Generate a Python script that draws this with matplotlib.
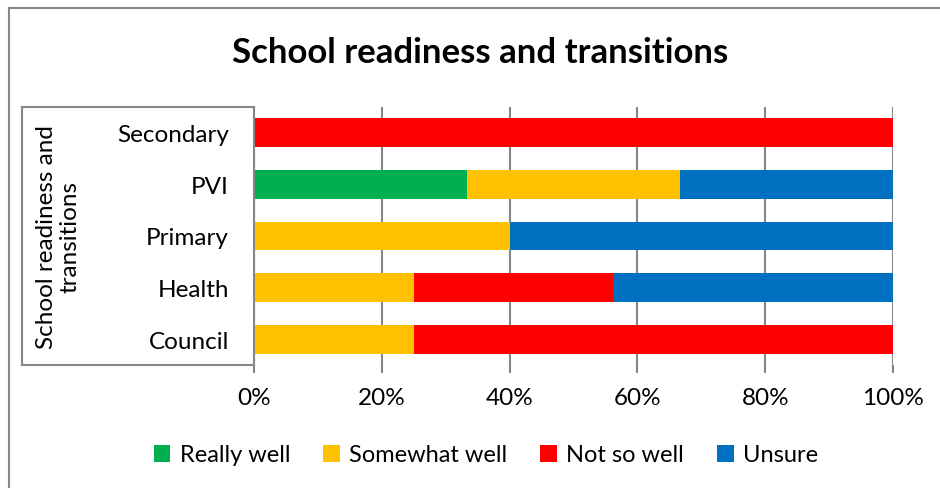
import matplotlib.pyplot as plt
from matplotlib.lines import Line2D
from matplotlib.ticker import PercentFormatter

plt.rcParams['font.family'] = ['Lato', 'DejaVu Sans']

categories = ['Council', 'Health', 'Primary', 'PVI', 'Secondary']
series_names = ['Really well', 'Somewhat well', 'Not so well', 'Unsure']
really_well = [0, 0, 0, 33.33, 0]
somewhat_well = [25, 25, 40, 33.33, 0]
not_so_well = [75, 31.25, 0, 0, 100]
unsure = [0, 43.75, 60, 33.34, 0]
colors = ['#00B050', '#FFC000', '#FF0000', '#0070C0']

W, H = 940, 489
fig = plt.figure(figsize=(W / 100, H / 100), dpi=100)
ax = fig.add_axes([254 / W, 1 - 366 / H, (893 - 254) / W, (366 - 108) / H])

left = [0] * len(categories)
for name, vals, c in zip(series_names, [really_well, somewhat_well, not_so_well, unsure], colors):
    ax.barh(categories, vals, left=left, height=0.56, color=c, label=name)
    left = [l + v for l, v in zip(left, vals)]

ax.set_xlim(0, 100)
ax.set_ylim(-0.5, len(categories) - 0.5)
ax.set_xticks([0, 20, 40, 60, 80, 100])
ax.xaxis.set_major_formatter(PercentFormatter(decimals=0))
ax.grid(axis='x', color='#868686', linewidth=1.5)
ax.set_axisbelow(True)
for s in ['top', 'right', 'bottom']:
    ax.spines[s].set_visible(False)
ax.spines['left'].set_color('#868686')
ax.spines['left'].set_linewidth(1.5)
ax.tick_params(axis='x', length=6, color='#868686', width=1.5, labelsize=17.5, pad=10)
ax.tick_params(axis='y', length=0, labelsize=17.5, pad=18)

# category group box on the left
box = dict(color='#868686', linewidth=1.5, transform=fig.transFigure)
fig.add_artist(Line2D([22 / W, 254 / W], [1 - 108 / H] * 2, **box))
fig.add_artist(Line2D([22 / W, 254 / W], [1 - 366 / H] * 2, **box))
fig.add_artist(Line2D([22 / W] * 2, [1 - 108 / H, 1 - 366 / H], **box))

fig.text(58 / W, 1 - 237 / H, 'School readiness and\ntransitions', rotation=90,
         ha='center', va='center', fontsize=17.5, linespacing=1.15)

fig.suptitle('School readiness and transitions', x=480 / W, y=1 - 53 / H, va='center',
             fontsize=25, fontweight='bold')

fig.legend(loc='center', bbox_to_anchor=(486 / W, 1 - 456 / H), ncol=4, frameon=False,
           fontsize=17, handlelength=0.7, handleheight=0.7, handletextpad=0.4,
           columnspacing=1.4)

# chart frame (top and left edges)
frame = dict(color='#868686', linewidth=1.5, transform=fig.transFigure)
fig.add_artist(Line2D([9 / W, 1], [1 - 9 / H] * 2, **frame))
fig.add_artist(Line2D([9 / W] * 2, [0, 1 - 9 / H], **frame))

fig.savefig('out.png', dpi=100)
